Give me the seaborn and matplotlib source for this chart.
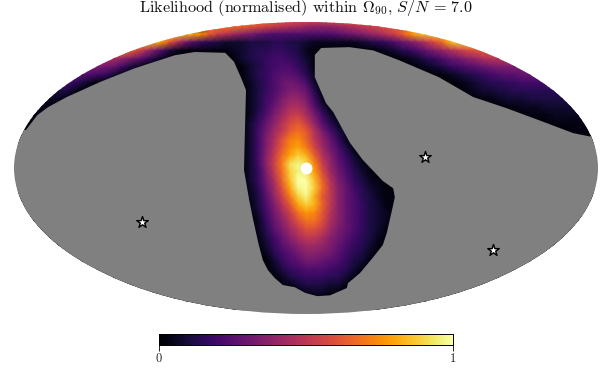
import numpy as np
import seaborn as sns
import matplotlib.pyplot as plt
from matplotlib.patches import Ellipse

# likelihood, one list per row of cells, top to bottom.
# each entry is (first column, base 36 levels), anything not listed is zero
row_runs = [
    [(20, "uuuuttttrponmllllllmnoqqrrsstttuu")],
    [(24, "oooonmlkjihgfeeefghijklmnoo")],
    [(18, "ttttsqmjhfdca9888888889abcefhjmqtuuuu")],
    [(15, "tttrlgb8654333444554432222223456 8acehkntvvv".replace(" ", ""))],
    [(11, "pppnkgc84211111123455665421"), (45, "123568acegiklmmm")],
    [(9, "hhhggeca742"[1:]), (27, "13456776531"), (48, "123568abdeghhiii")],
    [(7, "ccccba742"), (28, "1346788641"), (50, "12346789abcccccc")],
    [(5, "999987631"), (28, "1356899852"), (53, "1234567899aaaaa")],
    [(3, "7777642"), (29, "2468aba83"), (55, "12345566777777")],
    [(2, "444442"), (29, "2468acca51"), (56, "123344555555555")],
    [(1, "222221"), (29, "2479ceec72"), (58, "11233344444444")],
    [(0, "22221"), (29, "247adgge941"), (61, "112223333333")],
    [(0, "1111"), (29, "258cfijgc731"), (64, "111222222")],
    [(0, "111"), (29, "36adhkmje9521"), (66, "1111111")],
    [(29, "37bfimomhc842"), (69, "1111")],
    [(29, "37cglpqniea62")],
    [(29, "37chmqspkfb841")],
    [(29, "37diosvtnhd9631")],
    [(29, "37djpwywqjea7421")],
    [(29, "36ciovyxslfb8531")],
    [(29, "36bgnuzzunhc96421")],
    [(29, "25aflsyzvoida75321")],
    [(29, "249ejpvytmida854211")],
    [(29, "148chmsvtnida864311")],
    [(29, "137bfjorqmhda864321")],
    [(30, "26adhloolgda864321")],
    [(30, "259cfilljfca86431")],
    [(30, "147adgiigdb975421")],
    [(30, "1369bdffeca86531")],
    [(31, "2579bddcb975421")],
    [(32, "3689bba986431")],
    [(32, "246788876531")],
    [(33, "2456665531")],
    [(33, "113444331")],
    [(36, "1221")],
    [],
    [],
]

n_cols = 73
levels = "0123456789abcdefghijklmnopqrstuvwxyz"

# edge of the 90% region, everything past it is grey
edge_col = [1.0, 2.4, 3.75, 6.1, 10.25, 14.6, 19.6, 22.1, 25.9, 27.0, 28.0, 28.5, 28.4, 28.25,
            28.9, 29.4, 30.1, 30.6, 31.25, 32.1, 33.1, 34.6, 35.9, 37.4, 39.0, 41.1, 41.25, 42.75,
            44.4, 45.6, 46.1, 46.75, 47.1, 46.9, 45.6, 43.1, 41.5,
            39.4, 38.5, 37.1, 37.1, 37.9, 41.4, 44.4, 47.6, 52.6, 56.9, 61.0, 65.1, 69.4, 71.4,
            73.4, 73.4, -1.5, -1.5]
edge_row = [13.8, 12.0, 11.0, 9.75, 7.9, 6.2, 4.6, 4.2, 4.3, 5.4, 7.65, 8.9, 12.6, 18.75,
            22.45, 24.9, 28.0, 29.85, 31.1, 32.07, 32.93, 33.2, 33.9, 34.3, 34.2, 33.3, 32.7, 31.45,
            29.5, 28.0, 26.5, 23.7, 22.1, 21.0, 20.1, 17.5, 15.4,
            11.6, 10.5, 7.3, 4.55, 3.7, 3.6, 4.0, 5.2, 7.3, 9.75, 11.1, 12.6, 14.2, 14.6,
            14.6, 38.0, 38.0, 13.8]

# sky positions in map cells
star_col = [15.5, 50.9, 59.4]
star_row = [25.16, 17.15, 28.6]
source_col = [36.0]
source_row = [18.54]

cbar_ticks = [0, 1]
cbar_labels = ["0", "1"]
title = r"Likelihood (normalised) within $\Omega_{90}$, $S/N\,=\,7.0$"

sns.set_style("white")
plt.rcParams["font.family"] = ["cmr10"]
plt.rcParams["mathtext.fontset"] = "cm"
plt.rcParams["axes.formatter.use_mathtext"] = True

# build the grid from the rows
grid = np.zeros((len(row_runs), n_cols))
for r, runs in enumerate(row_runs):
    for start, vals in runs:
        for i, ch in enumerate(vals):
            if start + i < n_cols:
                grid[r, start + i] = levels.index(ch) / 35

fig = plt.figure(figsize=(6.12, 3.88), dpi=100)
ax = fig.add_axes([14 / 612, 1 - 314 / 388, 584 / 612, 292 / 388])
cax = fig.add_axes([159 / 612, 1 - 345 / 388, 294 / 612, 11 / 388])

sns.heatmap(grid, cmap="inferno", vmin=0, vmax=1, ax=ax, cbar_ax=cax, shading="gouraud",
            cbar_kws={"orientation": "horizontal", "ticks": cbar_ticks},
            xticklabels=False, yticklabels=False)
ax.set_xlim(-0.5, n_cols - 0.5)
ax.set_ylim(36.5, 0.5)

# clip to the mollweide outline
sky = Ellipse((36, 18.5), n_cols, 36, transform=ax.transData, facecolor="none", edgecolor="none")
ax.add_patch(sky)
ax.collections[0].set_clip_path(sky)
grey, = ax.fill(edge_col, edge_row, color="#808080", linewidth=0, zorder=3)
grey.set_clip_path(sky)
ax.axis("off")

sns.scatterplot(x=star_col, y=star_row, marker="*", s=75, color="white", edgecolor="black",
                linewidth=1.0, ax=ax, zorder=5, clip_on=False)
sns.scatterplot(x=source_col, y=source_row, marker="o", s=62, color="white", edgecolor="white",
                ax=ax, zorder=6, clip_on=False)

cax.set_xticklabels(cbar_labels, fontsize=9)
cax.tick_params(axis="x", length=4, width=0.6, pad=2, bottom=True, color="black")
for s in cax.spines.values():
    s.set_visible(True)
    s.set_linewidth(0.6)
    s.set_edgecolor("black")

fig.text(306 / 612, 1 - 8.5 / 388, title, ha="center", va="center", fontsize=11.65, color="#111111")

fig.savefig("out.png", dpi=100)
